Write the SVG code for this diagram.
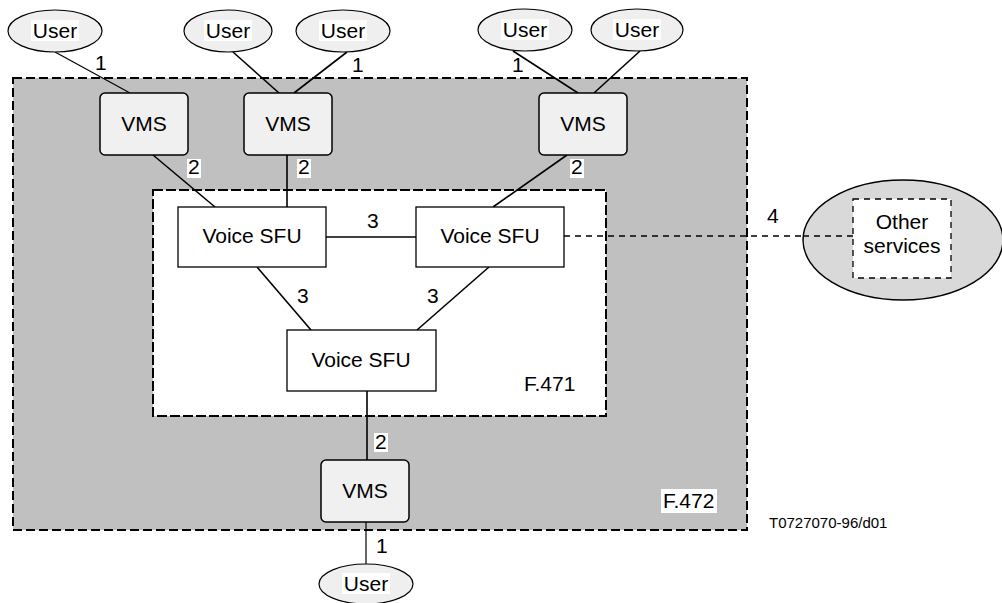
<svg xmlns="http://www.w3.org/2000/svg" width="1002" height="603" viewBox="0 0 1002 603">
<style>
text{font-family:"Liberation Sans",Arial,sans-serif;font-size:21px;fill:#000}
.user{fill:#efefef;stroke:#000;stroke-width:1.2}
.vms{fill:#f0f0f0;stroke:#000;stroke-width:1.5}
.sfu{fill:#fff;stroke:#000;stroke-width:1.3}
.ln{stroke:#000;stroke-width:1.6;fill:none}
.thin{stroke:#000;stroke-width:1.2;fill:none}
.bg{fill:#fff}
</style>
<rect id="f472" x="13" y="78" width="734" height="452" fill="#c0c0c0" stroke="#000" stroke-width="2" stroke-dasharray="9,4"/>
<rect id="f471" x="153" y="190" width="453" height="226" fill="#fff" stroke="#000" stroke-width="2" stroke-dasharray="10,3"/>
<text x="524" y="391">F.471</text>
<rect class="bg" x="661" y="489" width="56" height="24"/>
<text x="663" y="508">F.472</text>
<text x="769" y="528" style="font-size:15px">T0727070-96/d01</text>
<g id="connectors">
<line class="thin" x1="55" y1="52" x2="130" y2="93"/>
<line class="ln" x1="233" y1="52" x2="279" y2="93"/>
<line class="ln" x1="347" y1="52" x2="294" y2="93"/>
<line class="ln" x1="513" y1="51" x2="578" y2="93"/>
<line class="ln" x1="640" y1="51" x2="594" y2="93"/>
<line class="ln" x1="153" y1="155" x2="215" y2="207"/>
<line class="ln" x1="287" y1="155" x2="287" y2="207"/>
<line class="ln" x1="567" y1="155" x2="493" y2="207"/>
<line class="ln" x1="326" y1="237" x2="416" y2="237"/>
<line class="ln" x1="257" y1="267" x2="311" y2="330"/>
<line class="ln" x1="489" y1="267" x2="417" y2="330"/>
<line class="ln" x1="367" y1="391" x2="367" y2="460"/>
<line class="thin" x1="366" y1="522" x2="366" y2="564"/>
<line x1="564" y1="236" x2="853" y2="236" stroke="#000" stroke-width="1.3" stroke-dasharray="6,5"/>
<text x="95" y="70">1</text>
<text x="352" y="72">1</text>
<text x="512" y="72">1</text>
<rect class="bg" x="187" y="159" width="14" height="19"/>
<text x="188" y="174">2</text>
<rect class="bg" x="297" y="159" width="14" height="19"/>
<text x="298" y="174">2</text>
<rect class="bg" x="570" y="159" width="14" height="19"/>
<text x="571" y="174">2</text>
<rect class="bg" x="374" y="433" width="14" height="19"/>
<text x="375" y="449">2</text>
<text x="376" y="553">1</text>
<text x="367" y="228">3</text>
<text x="297" y="303">3</text>
<text x="427" y="303">3</text>
<text x="767" y="223">4</text>
</g>
<g id="user1"><ellipse class="user" cx="55" cy="31" rx="47" ry="21"/><rect class="bg" x="31" y="20" width="48" height="21"/><text x="55" y="38" text-anchor="middle">User</text></g>
<g id="user2"><ellipse class="user" cx="228" cy="31" rx="44" ry="21"/><rect class="bg" x="204" y="20" width="48" height="21"/><text x="228" y="38" text-anchor="middle">User</text></g>
<g id="user3"><ellipse class="user" cx="343" cy="31" rx="47" ry="21"/><rect class="bg" x="319" y="20" width="48" height="21"/><text x="343" y="38" text-anchor="middle">User</text></g>
<g id="user4"><ellipse class="user" cx="525" cy="30" rx="47" ry="21"/><rect class="bg" x="501" y="19" width="48" height="21"/><text x="525" y="37" text-anchor="middle">User</text></g>
<g id="user5"><ellipse class="user" cx="637" cy="30" rx="46" ry="21"/><rect class="bg" x="613" y="19" width="48" height="21"/><text x="637" y="37" text-anchor="middle">User</text></g>
<g id="user6"><ellipse class="user" cx="366" cy="584" rx="47" ry="20"/><rect class="bg" x="342" y="573" width="48" height="21"/><text x="366" y="591" text-anchor="middle">User</text></g>
<g id="vms1"><rect class="vms" x="100" y="93" width="88" height="62" rx="5"/><text x="144" y="131" text-anchor="middle">VMS</text></g>
<g id="vms2"><rect class="vms" x="244" y="93" width="88" height="62" rx="5"/><text x="288" y="131" text-anchor="middle">VMS</text></g>
<g id="vms3"><rect class="vms" x="539" y="93" width="88" height="62" rx="5"/><text x="583" y="131" text-anchor="middle">VMS</text></g>
<g id="vms4"><rect class="vms" x="321" y="460" width="88" height="62" rx="5"/><text x="365" y="498" text-anchor="middle">VMS</text></g>
<g id="sfu1"><rect class="sfu" x="178" y="207" width="148" height="60"/><text x="252" y="243" text-anchor="middle">Voice SFU</text></g>
<g id="sfu2"><rect class="sfu" x="416" y="207" width="148" height="60"/><text x="490" y="243" text-anchor="middle">Voice SFU</text></g>
<g id="sfu3"><rect class="sfu" x="287" y="330" width="149" height="61"/><text x="361" y="367" text-anchor="middle">Voice SFU</text></g>
<g id="other"><ellipse cx="903" cy="240" rx="100" ry="60" fill="#d9d9d9" stroke="#000" stroke-width="1.5"/><rect x="853" y="199" width="98" height="79" fill="#fff" stroke="#000" stroke-width="1.3" stroke-dasharray="6,5"/><text x="902" y="229" text-anchor="middle">Other</text><text x="902" y="253" text-anchor="middle">services</text></g>
<line x1="803" y1="236" x2="853" y2="236" stroke="#000" stroke-width="1.3" stroke-dasharray="6,5"/>
</svg>
